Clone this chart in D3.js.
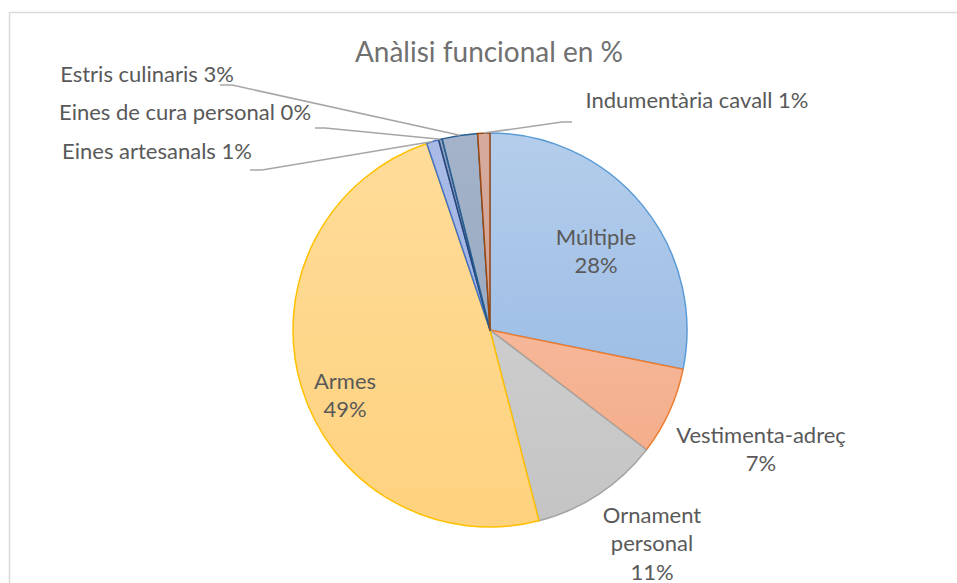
<!DOCTYPE html>
<html>
<head>
<meta charset="utf-8">
<script src="https://cdn.jsdelivr.net/npm/d3@7"></script>
<style>
  body { margin: 0; background: #fff; }
  svg { display: block; }
  text { font-family: Lato, "Open Sans", sans-serif; fill: #595959; }
</style>
</head>
<body>
<div id="chart"></div>
<script>
//chart data (order as in the spreadsheet, clockwise from 12 o'clock)
var categories = ["Múltiple", "Vestimenta-adreç", "Ornament personal", "Armes",
  "Eines artesanals", "Eines de cura personal", "Estris culinaris", "Indumentària cavall"];
var values = [28.2, 7.2, 10.6, 48.8, 1.0, 0.3, 2.9, 1.0];
var title = "Anàlisi funcional en %";

//colours per slice: outline, gradient top, gradient bottom
var strokes = ["#5b9bd5", "#ed7d31", "#a5a5a5", "#ffc000", "#4472c4", "#264478", "#255e91", "#9e480e"];
var fillTop = ["#b4cdeb", "#f8c6ae", "#d6d6d6", "#ffdc9a", "#a9bbe6", "#8b9dc0", "#a4b3c9", "#d6aa9e"];
var fillBot = ["#90b5e2", "#f3a883", "#c4c4c4", "#fed27e", "#9aaee0", "#7a8eb6", "#8fa2bd", "#ce9c8e"];

//size
var width = 957, height = 583;
var cx = 490, cy = 330, radius = 197;

//label layout, offsets from the pie centre
//inside labels: [dx, dy] of the first line; outside labels also get a leader knee
var labelLayout = {
  "Múltiple":              {at: [106, -94], lines: ["Múltiple"]},
  "Vestimenta-adreç":      {at: [271, 104], lines: ["Vestimenta-adreç"]},
  "Ornament personal":     {at: [162, 184], lines: ["Ornament", "personal"]},
  "Armes":                 {at: [-145, 50], lines: ["Armes"]},
  "Eines artesanals":      {at: [-333, -180], knee: [[-240, -160], [-228, -160]], inline: true},
  "Eines de cura personal":{at: [-305, -219], knee: [[-175, -202], [-165, -202]], inline: true},
  "Estris culinaris":      {at: [-343, -257], knee: [[-270, -245], [-258, -245]], inline: true},
  "Indumentària cavall":   {at: [207, -231], knee: [[82, -208], [72, -208]], inline: true}
};
var lineGap = 28.5;

var svg = d3.select("#chart").append("svg")
    .attr("width", width)
    .attr("height", height);

//chart border (runs off the right and bottom of the picture)
svg.append("rect")
    .attr("x", 9.5).attr("y", 12.5)
    .attr("width", width + 20).attr("height", height + 20)
    .attr("fill", "#fff")
    .attr("stroke", "#d9d9d9")
    .attr("stroke-width", 1.5);

//title
svg.append("text")
    .attr("x", 489).attr("y", 62)
    .attr("text-anchor", "middle")
    .style("font-size", "28px")
    .style("fill", "#707070")
    .text(title);

//gradients
var defs = svg.append("defs");
categories.forEach(function(c, i) {
  var g = defs.append("linearGradient")
      .attr("id", "grad" + i)
      .attr("gradientUnits", "userSpaceOnUse")
      .attr("x1", 0).attr("y1", -radius)
      .attr("x2", 0).attr("y2", radius);
  g.append("stop").attr("offset", "0%").attr("stop-color", fillTop[i]);
  g.append("stop").attr("offset", "100%").attr("stop-color", fillBot[i]);
});

var total = d3.sum(values);
var pct = function(v) { return Math.round(v / total * 100) + "%"; };

var pie = d3.pie().sort(null).value(function(d) { return d; });
var arcs = pie(values);

var arc = d3.arc().innerRadius(0).outerRadius(radius);
var edge = d3.arc().innerRadius(radius).outerRadius(radius);

var g = svg.append("g")
    .attr("transform", "translate(" + cx + "," + cy + ")");

//slices
g.selectAll("path.slice")
  .data(arcs)
  .enter().append("path")
    .attr("class", "slice")
    .attr("d", arc)
    .attr("fill", function(d, i) { return "url(#grad" + i + ")"; })
    .attr("stroke", function(d, i) { return strokes[i]; })
    .attr("stroke-width", 1.5)
    .attr("stroke-linejoin", "round");

//labels
arcs.forEach(function(d, i) {
  var name = categories[i];
  var lay = labelLayout[name];
  if (lay.inline) {
    //leader line from label to the slice edge
    var p = edge.centroid(d);
    var pts = [lay.knee[0], lay.knee[1], p];
    g.append("path")
        .attr("d", d3.line()(pts))
        .attr("fill", "none")
        .attr("stroke", "#a6a6a6")
        .attr("stroke-width", 1.5);
    g.append("text")
        .attr("x", lay.at[0]).attr("y", lay.at[1])
        .attr("text-anchor", "middle")
        .attr("dominant-baseline", "central")
        .style("font-size", "22px")
        .text(name + " " + pct(values[i]));
  } else {
    var lines = lay.lines.concat([pct(values[i])]);
    var t = g.append("text")
        .attr("text-anchor", "middle")
        .style("font-size", "22px");
    lines.forEach(function(l, k) {
      t.append("tspan")
          .attr("x", lay.at[0])
          .attr("y", lay.at[1] + k * lineGap)
          .attr("dominant-baseline", "central")
          .text(l);
    });
  }
});
</script>
</body>
</html>
